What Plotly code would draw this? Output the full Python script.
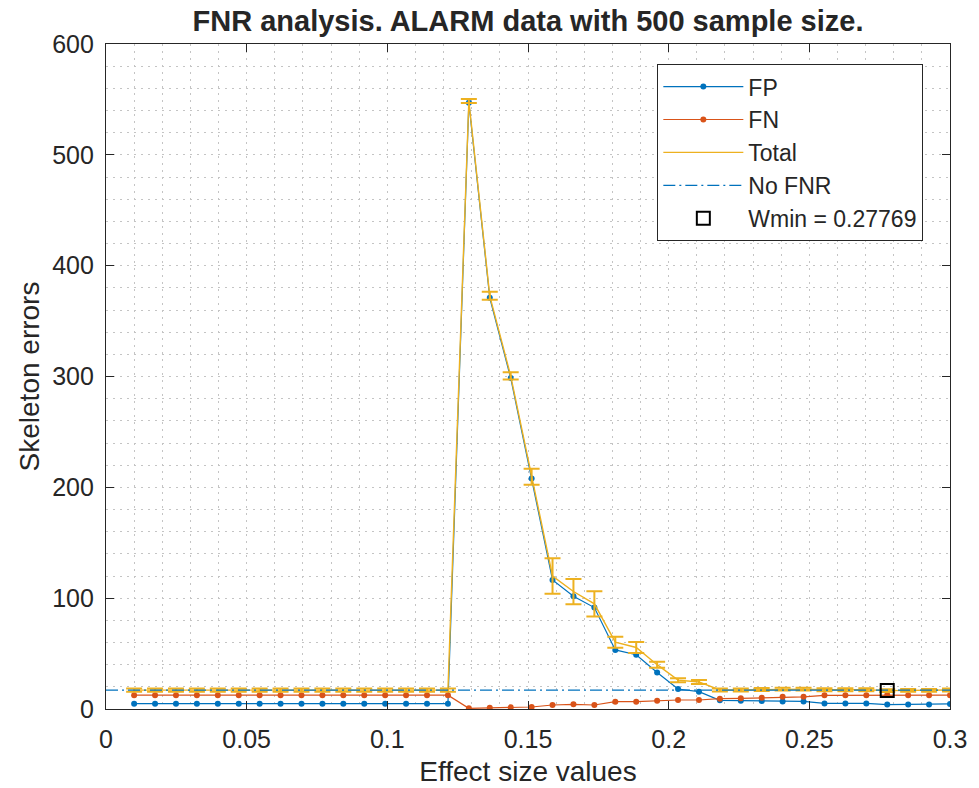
import plotly.graph_objects as go

# ---------------- data ----------------
effect_sizes = [0.01, 0.017436, 0.024872, 0.032308, 0.039744, 0.047179, 0.054615, 0.062051,
                0.069487, 0.076923, 0.084359, 0.091795, 0.099231, 0.106667, 0.114103, 0.121538,
                0.128974, 0.136410, 0.143846, 0.151282, 0.158718, 0.166154, 0.173590, 0.181026,
                0.188462, 0.195897, 0.203333, 0.210769, 0.218205, 0.225641, 0.233077, 0.240513,
                0.247949, 0.255385, 0.262821, 0.270256, 0.277692, 0.285128, 0.292564, 0.3]

fp = [4.8, 4.8, 4.8, 4.8, 4.8, 4.8, 4.8, 4.8, 4.8, 4.8, 4.8, 4.8, 4.8, 4.8, 4.8, 4.8,
      547, 371, 298.7, 208, 116.5, 101.8, 91.5, 53.3, 49, 33, 18, 15.6,
      7.8, 7.5, 7.3, 6.8, 6.8, 5, 5, 5, 4, 4, 4, 4.6]

fn = [12.5, 12.5, 12.5, 12.5, 12.5, 12.5, 12.5, 12.5, 12.5, 12.5, 12.5, 12.5, 12.5, 12.5, 12.5, 12.5,
      0.6, 1.2, 1.5, 1.8, 3.6, 4.2, 3.6, 6.6, 6.6, 7.5, 8.1, 8.1,
      9.3, 9.6, 10.2, 11, 11, 12.3, 12.3, 12.3, 12.6, 12.3, 12.3, 12.5]

total = [17, 17, 17, 17, 17, 17, 17, 17, 17, 17, 17, 17, 17, 17, 17, 17,
         548.6, 372.8, 300.5, 209.6, 120, 106, 94.9, 60.3, 55.5, 40, 26, 24.4,
         17.2, 17.2, 17.6, 17.9, 17.9, 17.4, 17.4, 17.4, 16.6, 16.8, 16.8, 17.2]

total_err = [1.5, 1.5, 1.5, 1.5, 1.5, 1.5, 1.5, 1.5, 1.5, 1.5, 1.5, 1.5, 1.5, 1.5, 1.5, 1.5,
             1.8, 3.6, 3.3, 7.2, 16, 11.4, 11.4, 5, 5, 2.7, 1.8, 1.8,
             1.3, 1.3, 1.3, 1.3, 1.3, 1.3, 1.3, 1.3, 1.3, 1.3, 1.3, 1.3]

no_fnr_x = [0, 0.3]
no_fnr_y = [17, 17]

wmin_x = [0.277692]
wmin_y = [16.6]
wmin_label = "Wmin = 0.27769"

x_ticks = [0, 0.05, 0.1, 0.15, 0.2, 0.25, 0.3]
x_tick_labels = ["0", "0.05", "0.1", "0.15", "0.2", "0.25", "0.3"]
y_ticks = [0, 100, 200, 300, 400, 500, 600]

# ---------------- style ----------------
BLUE = "#0072BD"
ORANGE = "#D95319"
YELLOW = "#EDB120"
AX = "#262626"
GRID = "#c4c4c4"
FONT = "Liberation Sans, Arial, Helvetica, sans-serif"

fig = go.Figure()

fig.add_trace(go.Scatter(x=effect_sizes, y=fp, mode="lines+markers", name="FP",
                         legendgroup="a",
                         line=dict(color=BLUE, width=1.2),
                         marker=dict(color=BLUE, size=6)))
fig.add_trace(go.Scatter(x=effect_sizes, y=fn, mode="lines+markers", name="FN",
                         legendgroup="b",
                         line=dict(color=ORANGE, width=1.2),
                         marker=dict(color=ORANGE, size=6)))
fig.add_trace(go.Scatter(x=effect_sizes, y=total, mode="lines", name="Total",
                         legendgroup="c",
                         line=dict(color=YELLOW, width=1.4),
                         error_y=dict(type="data", array=total_err, visible=True,
                                      color=YELLOW, thickness=2, width=8)))
fig.add_trace(go.Scatter(x=no_fnr_x, y=no_fnr_y, mode="lines", name="No FNR",
                         legendgroup="d",
                         line=dict(color=BLUE, width=1.2, dash="12px,4px,2px,4px")))
fig.add_trace(go.Scatter(x=wmin_x, y=wmin_y, mode="markers", name=wmin_label,
                         legendgroup="e",
                         marker=dict(symbol="square-open", size=13, color="black",
                                     line=dict(color="black", width=2))))

axis_common = dict(
    showline=True, linecolor=AX, linewidth=1.2, mirror="ticks",
    ticks="inside", ticklen=8, tickwidth=1.2, tickcolor=AX,
    showgrid=True, gridcolor=GRID, gridwidth=1, griddash="2px,5px",
    zeroline=False, automargin=False,
    tickfont=dict(family=FONT, size=25, color=AX),
)

fig.update_xaxes(range=[0, 0.3], tickvals=x_ticks, ticktext=x_tick_labels,
                 title=dict(text="Effect size values", font=dict(family=FONT, size=28, color=AX),
                            standoff=9),
                 minor=dict(dtick=0.01, tick0=0, showgrid=True, gridcolor=GRID,
                            gridwidth=1, griddash="2px,5px", ticks=""),
                 ticklabelstandoff=8,
                 **axis_common)
fig.update_yaxes(range=[0, 600], tickvals=y_ticks,
                 title=dict(text="Skeleton errors", font=dict(family=FONT, size=28, color=AX),
                            standoff=4),
                 minor=dict(dtick=20, tick0=0, showgrid=True, gridcolor=GRID,
                            gridwidth=1, griddash="2px,5px", ticks=""),
                 ticklabelstandoff=6,
                 **axis_common)

fig.update_layout(
    width=979, height=788,
    margin=dict(l=106, r=29, t=44, b=79),
    paper_bgcolor="white", plot_bgcolor="white",
    title=dict(text="<b>FNR analysis. ALARM data with 500 sample size.</b>",
               font=dict(family=FONT, size=29, color=AX),
               x=0.5, xanchor="center", xref="paper", y=0.974, yanchor="middle"),
    showlegend=True,
    legend=dict(x=0.653, y=0.97, xanchor="left", yanchor="top",
                bgcolor="white", bordercolor=AX, borderwidth=1.2,
                font=dict(family=FONT, size=23, color=AX),
                itemwidth=80, tracegroupgap=3, traceorder="normal"),
)

fig.write_html("out.html",
               config={"displayModeBar": False},
               post_script="document.body.style.margin='0px';document.body.style.overflow='hidden';")
